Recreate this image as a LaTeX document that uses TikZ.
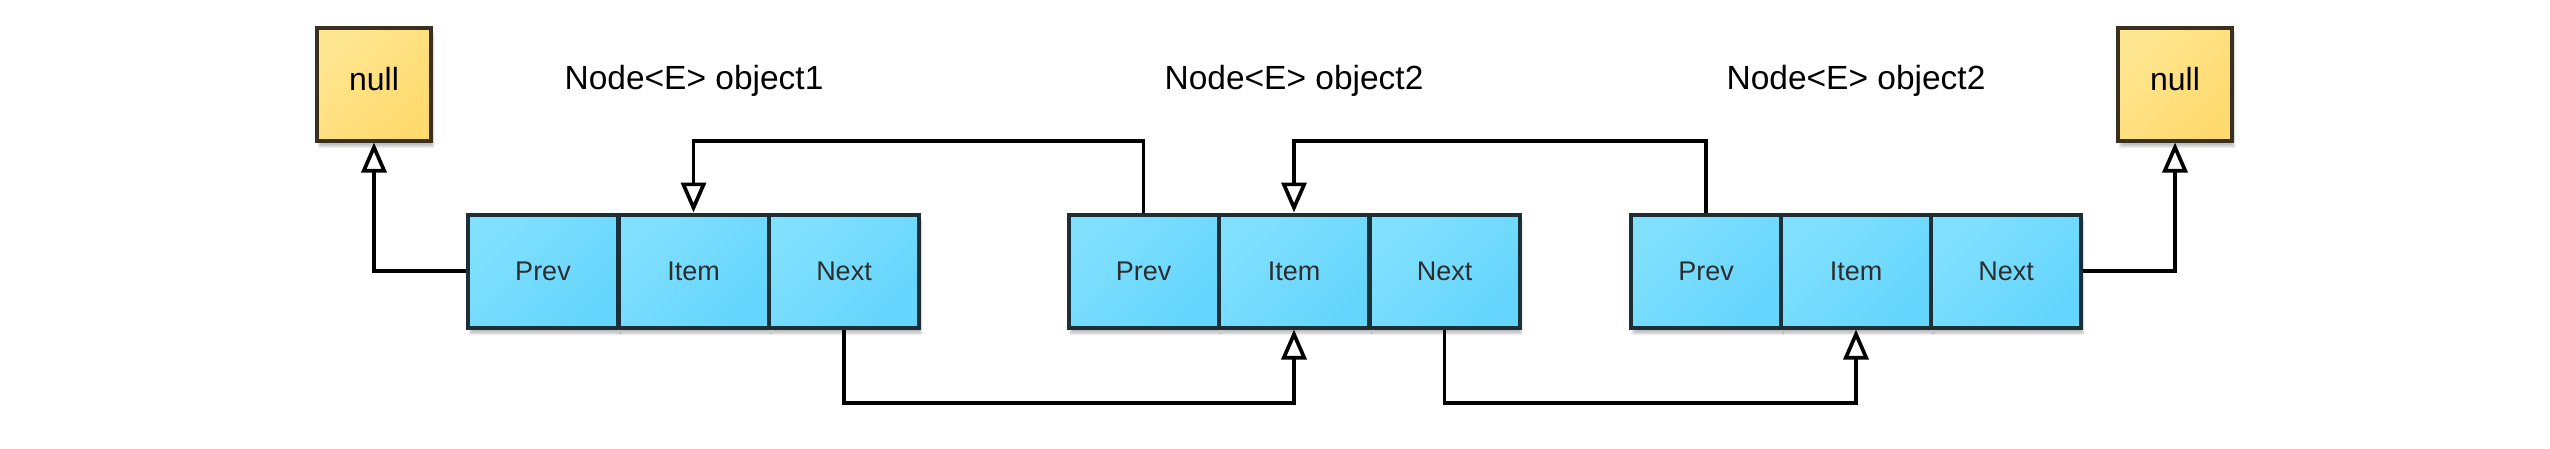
\documentclass[tikz,border=0pt]{standalone}
\usepackage{fontspec}
\setmainfont{Liberation Sans}
\usetikzlibrary{arrows.meta,shadows.blur,calc}
\definecolor{cellA}{RGB}{130,224,255}
\definecolor{cellB}{RGB}{100,213,253}
\definecolor{cellLine}{RGB}{28,46,54}
\definecolor{nullA}{RGB}{255,230,145}
\definecolor{nullB}{RGB}{255,218,110}
\definecolor{nullLine}{RGB}{58,48,32}
\definecolor{cellText}{RGB}{45,45,45}
\tikzset{
  cell/.style={draw=cellLine, line width=4pt, top color=cellA, bottom color=cellB, shading angle=45,
    minimum width=150pt, minimum height=113pt, inner sep=0pt, text=cellText,
    font=\fontsize{27pt}{30pt}\selectfont,
    blur shadow={shadow xshift=2pt, shadow yshift=-6pt, shadow blur steps=6, shadow opacity=25}},
  nullbox/.style={draw=nullLine, line width=4pt, top color=nullA, bottom color=nullB, shading angle=45,
    minimum width=114pt, minimum height=113pt, inner sep=0pt, text=black,
    font=\fontsize{32pt}{35pt}\selectfont,
    blur shadow={shadow xshift=2pt, shadow yshift=-6pt, shadow blur steps=6, shadow opacity=25}},
  title/.style={font=\fontsize{33.5pt}{36pt}\selectfont, text=black, inner sep=0pt},
  conn/.style={line width=3.7pt, draw=black, -{Triangle[open,length=30pt,width=25pt]}},
}
\begin{document}
\begin{tikzpicture}[x=1pt,y=-1pt]
\useasboundingbox (0,0) rectangle (2550,448);
% null boxes
\node[nullbox] (null1) at (374,84) {\raisebox{-6pt}[0pt][0pt]{null}};
\node[nullbox] (null2) at (2175,84) {\raisebox{-6pt}[0pt][0pt]{null}};
% titles
\node[title] (t1) at (694,81) {Node<E> object1};
\node[title] (t2) at (1294,81) {Node<E> object2};
\node[title] (t3) at (1856,81) {Node<E> object2};
% row 1
\node[cell] (p1) at (543,271) {Prev};
\node[cell] (i1) at (693.5,271) {Item};
\node[cell] (n1) at (844,271) {Next};
% row 2
\node[cell] (p2) at (1143.5,271) {Prev};
\node[cell] (i2) at (1294,271) {Item};
\node[cell] (n2) at (1444.5,271) {Next};
% row 3
\node[cell] (p3) at (1706,271) {Prev};
\node[cell] (i3) at (1856,271) {Item};
\node[cell] (n3) at (2006,271) {Next};
% guide coordinates
\coordinate (top) at (0,141);
\coordinate (bot) at (0,403);
% connectors
\draw[conn] (p1.west) -| (null1.south);
\draw[conn] (n3.east) -| (null2.south);
\draw[conn] (p2.north) -- (p2.north |- top) -| (i1.north);
\draw[conn] (p3.north) -- (p3.north |- top) -| (i2.north);
\draw[conn] (n1.south) -- (n1.south |- bot) -| (i2.south);
\draw[conn] (n2.south) -- (n2.south |- bot) -| (i3.south);
\end{tikzpicture}
\end{document}
